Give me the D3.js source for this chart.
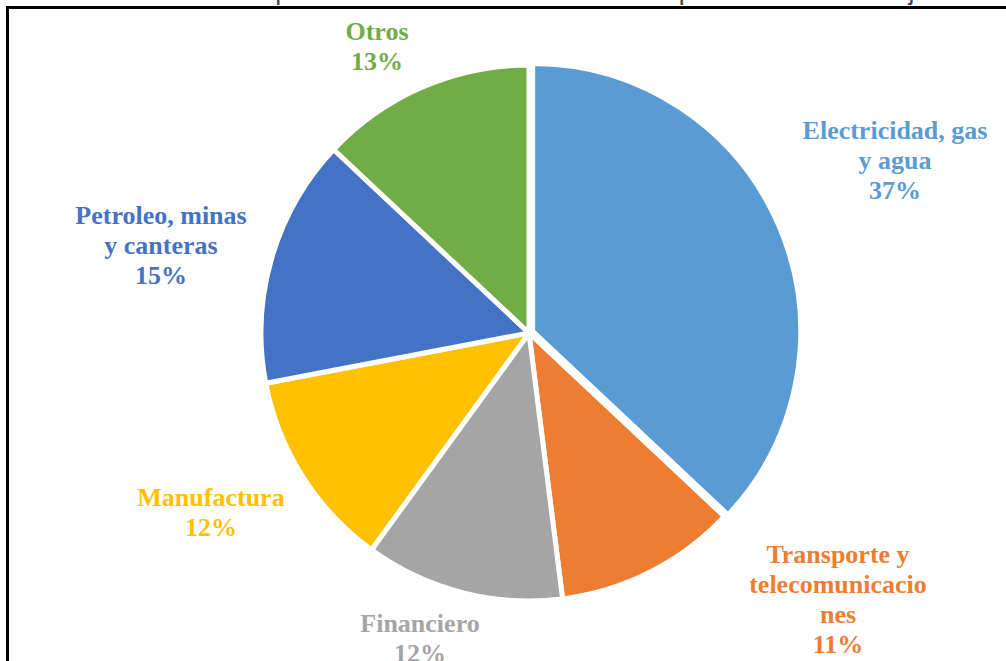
<!DOCTYPE html>
<html>
<head>
<meta charset="utf-8">
<script src="https://cdn.jsdelivr.net/npm/d3@7"></script>
<style>
  html, body { margin: 0; padding: 0; background: #fff; }
  svg { display: block; }
</style>
</head>
<body>
<svg id="chart" width="1006" height="661"></svg>
<script>
// Sectores y participación (%) de la inversión
const categories = [
  "Electricidad, gas y agua",
  "Transporte y telecomunicaciones",
  "Financiero",
  "Manufactura",
  "Petroleo, minas y canteras",
  "Otros"
];
const shares = [37, 11, 12, 12, 15, 13];

// Lines of each data label, as wrapped in the chart box
const labelLines = [
  ["Electricidad, gas", "y agua"],
  ["Transporte y", "telecomunicacio", "nes"],
  ["Financiero"],
  ["Manufactura"],
  ["Petroleo, minas", "y canteras"],
  ["Otros"]
];

const colors = ["#5B9BD5", "#ED7D31", "#A5A5A5", "#FFC000", "#4472C4", "#70AD47"];

// Label anchor (centre x, first baseline y) for each slice
const labelAnchor = [
  [895, 139], [838, 563], [420, 632], [211, 506], [161, 224], [377, 40]
];

const svg = d3.select("#chart");

// Title line, sitting just above the top edge of the page
svg.append("text")
  .attr("x", 38).attr("y", 0)
  .attr("font-family", "Liberation Sans, Arial, sans-serif")
  .attr("font-size", 26.5)
  .attr("fill", "#444")
  .text("Gráfica 5. Inversión porcentual de la IED en Colombia por sectores enero-junio");

// Frame
svg.append("path")
  .attr("d", "M7.5,661 V7.5 H1006")
  .attr("fill", "none")
  .attr("stroke", "#000")
  .attr("stroke-width", 3);

const cx = 529, cy = 333, radius = 268;

const pie = d3.pie().sort(null).value(d => d)
  .startAngle(0).endAngle(2 * Math.PI);
const arcs = pie(shares);
const arc = d3.arc().innerRadius(0).outerRadius(radius);

const g = svg.append("g").attr("transform", `translate(${cx},${cy})`);

// First slice pulled slightly out from the centre
const explode = [4, 0, 0, 0, 0, 0];

g.selectAll("path.slice")
  .data(arcs)
  .join("path")
  .attr("class", "slice")
  .attr("d", arc)
  .attr("fill", (d, i) => colors[i])
  .attr("stroke", "#fff")
  .attr("stroke-width", 5)
  .attr("stroke-linejoin", "round")
  .attr("transform", (d, i) => {
    const a = (d.startAngle + d.endAngle) / 2;
    return `translate(${explode[i] * Math.sin(a)},${-explode[i] * Math.cos(a)})`;
  });

// Data labels: name lines followed by the percentage
const lineH = 30;
const labels = svg.append("g")
  .attr("font-family", "Liberation Serif, 'Times New Roman', serif")
  .attr("font-weight", "bold")
  .attr("font-size", 26)
  .attr("text-anchor", "middle");

arcs.forEach((d, i) => {
  const [lx, ly] = labelAnchor[i];
  const t = labels.append("text").attr("fill", colors[i]);
  const lines = labelLines[i].concat([`${shares[i]}%`]);
  lines.forEach((s, k) => {
    t.append("tspan").attr("x", lx).attr("y", ly + k * lineH).text(s);
  });
});
</script>
</body>
</html>
